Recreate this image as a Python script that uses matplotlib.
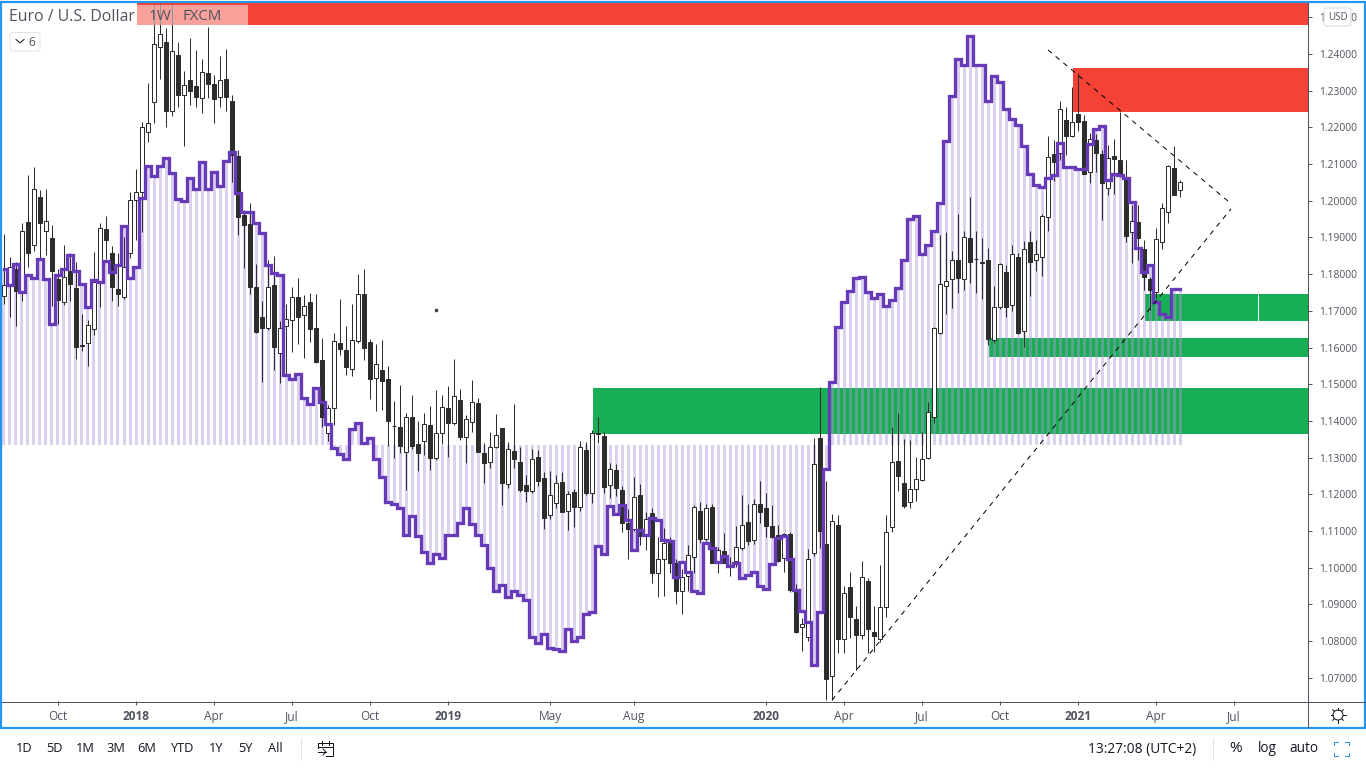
import matplotlib.pyplot as plt
from matplotlib.patches import Rectangle, FancyBboxPatch, Circle
import numpy as np

plt.rcParams['font.family'] = ['Open Sans', 'DejaVu Sans']

# weekly EUR/USD candles
opens = [
    1.1740, 1.1770, 1.1814, 1.1751, 1.1942, 1.1880, 1.2010, 1.1918, 1.1899, 1.1787,
    1.1724, 1.1809, 1.1762, 1.1607, 1.1612, 1.1650, 1.1779, 1.1923, 1.1857, 1.1760,
    1.1738, 1.1857, 1.2002, 1.2024, 1.2187, 1.2269, 1.2419, 1.2432, 1.2245, 1.2397,
    1.2288, 1.2329, 1.2313, 1.2280, 1.2348, 1.2318, 1.2283, 1.2332, 1.2272, 1.2122,
    1.1961, 1.1937, 1.1765, 1.1683, 1.1653, 1.1770, 1.1585, 1.1659, 1.1675, 1.1738,
    1.1689, 1.1724, 1.1653, 1.1566, 1.1367, 1.1435, 1.1612, 1.1593, 1.1542, 1.1618,
    1.1746, 1.1615, 1.1517, 1.1539, 1.1514, 1.1387, 1.1383, 1.1315, 1.1411, 1.1337,
    1.1345, 1.1389, 1.1299, 1.1367, 1.1435, 1.1394, 1.1457, 1.1356, 1.1397, 1.1449,
    1.1312, 1.1288, 1.1329, 1.1381, 1.1228, 1.1318, 1.1288, 1.1225, 1.1209, 1.1302,
    1.1244, 1.1143, 1.1176, 1.1234, 1.1155, 1.1206, 1.1165, 1.1321, 1.1204, 1.1367,
    1.1359, 1.1225, 1.1266, 1.1212, 1.1122, 1.1105, 1.1198, 1.1089, 1.1149, 1.0985,
    1.1024, 1.1067, 1.1013, 1.0936, 1.0977, 1.1029, 1.1154, 1.1078, 1.1165, 1.1013,
    1.1045, 1.1007, 1.1018, 1.1053, 1.1124, 1.1075, 1.1174, 1.1163, 1.1113, 1.1089,
    1.1026, 1.1092, 1.0939, 1.0838, 1.0811, 1.1040, 1.1353, 1.1064, 1.0705, 1.1116,
    1.0805, 1.0947, 1.0860, 1.0816, 1.0963, 1.0825, 1.0805, 1.0893, 1.1111, 1.1291,
    1.1231, 1.1179, 1.1215, 1.1239, 1.1299, 1.1411, 1.1640, 1.1768, 1.1787, 1.1838,
    1.1787, 1.1898, 1.1842, 1.1833, 1.1838, 1.1620, 1.1710, 1.1806, 1.1716, 1.1847,
    1.1645, 1.1888, 1.1838, 1.1847, 1.1956, 1.2127, 1.2130, 1.2220, 1.2176, 1.2236,
    1.2217, 1.2079, 1.2166, 1.2127, 1.2035, 1.2122, 1.2111, 1.2065, 1.1915, 1.1942,
    1.1868, 1.1787, 1.1751, 1.1888, 1.1969, 1.2089, 1.2029,
]
closes = [
    1.1770, 1.1819, 1.1754, 1.1918, 1.1858, 1.2032, 1.1940, 1.1945, 1.1809, 1.1729,
    1.1792, 1.1773, 1.1601, 1.1605, 1.1661, 1.1779, 1.1926, 1.1893, 1.1765, 1.1746,
    1.1819, 1.2002, 1.2024, 1.2201, 1.2212, 1.2427, 1.2454, 1.2245, 1.2408, 1.2288,
    1.2315, 1.2299, 1.2283, 1.2351, 1.2318, 1.2277, 1.2329, 1.2283, 1.2125, 1.1956,
    1.1934, 1.1765, 1.1642, 1.1653, 1.1765, 1.1601, 1.1653, 1.1678, 1.1738, 1.1683,
    1.1713, 1.1650, 1.1560, 1.1411, 1.1435, 1.1618, 1.1596, 1.1547, 1.1621, 1.1746,
    1.1599, 1.1514, 1.1555, 1.1509, 1.1400, 1.1385, 1.1331, 1.1411, 1.1331, 1.1312,
    1.1391, 1.1299, 1.1367, 1.1438, 1.1394, 1.1468, 1.1356, 1.1405, 1.1451, 1.1315,
    1.1285, 1.1329, 1.1362, 1.1231, 1.1323, 1.1296, 1.1212, 1.1209, 1.1296, 1.1236,
    1.1135, 1.1198, 1.1231, 1.1152, 1.1201, 1.1165, 1.1329, 1.1204, 1.1367, 1.1365,
    1.1220, 1.1269, 1.1217, 1.1122, 1.1105, 1.1193, 1.1086, 1.1132, 1.0985, 1.1024,
    1.1067, 1.1013, 1.0936, 1.0974, 1.1035, 1.1165, 1.1078, 1.1163, 1.1013, 1.1048,
    1.1013, 1.1005, 1.1056, 1.1116, 1.1073, 1.1174, 1.1152, 1.1113, 1.1084, 1.1018,
    1.1092, 1.0939, 1.0825, 1.0846, 1.1024, 1.1283, 1.1100, 1.0697, 1.1127, 1.0805,
    1.0931, 1.0866, 1.0816, 1.0974, 1.0833, 1.0814, 1.0893, 1.1097, 1.1288, 1.1250,
    1.1168, 1.1215, 1.1242, 1.1296, 1.1424, 1.1653, 1.1773, 1.1781, 1.1838, 1.1789,
    1.1901, 1.1833, 1.1841, 1.1831, 1.1623, 1.1710, 1.1828, 1.1710, 1.1855, 1.1640,
    1.1868, 1.1833, 1.1855, 1.1959, 1.2119, 1.2105, 1.2250, 1.2176, 1.2215, 1.2215,
    1.2073, 1.2168, 1.2130, 1.2049, 1.2116, 1.2114, 1.2073, 1.1904, 1.1945, 1.1898,
    1.1792, 1.1757, 1.1896, 1.1980, 1.2095, 1.2016, 1.2051,
]
highs = [
    1.1909, 1.1847, 1.1833, 1.1939, 1.2070, 1.2092, 1.2029, 1.2032, 1.1934, 1.1814,
    1.1880, 1.1857, 1.1833, 1.1691, 1.1675, 1.1860, 1.1939, 1.1958, 1.1877, 1.1857,
    1.1901, 1.2024, 1.2087, 1.2215, 1.2321, 1.2535, 1.2535, 1.2470, 1.2535, 1.2432,
    1.2353, 1.2443, 1.2411, 1.2386, 1.2474, 1.2343, 1.2394, 1.2414, 1.2288, 1.2138,
    1.1975, 1.1994, 1.1828, 1.1727, 1.1838, 1.1850, 1.1672, 1.1718, 1.1765, 1.1789,
    1.1743, 1.1749, 1.1746, 1.1626, 1.1443, 1.1640, 1.1732, 1.1659, 1.1718, 1.1801,
    1.1814, 1.1623, 1.1610, 1.1620, 1.1550, 1.1454, 1.1498, 1.1421, 1.1471, 1.1399,
    1.1421, 1.1441, 1.1484, 1.1471, 1.1495, 1.1569, 1.1487, 1.1416, 1.1512, 1.1463,
    1.1340, 1.1370, 1.1419, 1.1381, 1.1342, 1.1446, 1.1329, 1.1253, 1.1323, 1.1321,
    1.1261, 1.1263, 1.1253, 1.1261, 1.1209, 1.1214, 1.1345, 1.1343, 1.1375, 1.1411,
    1.1370, 1.1285, 1.1283, 1.1223, 1.1160, 1.1247, 1.1228, 1.1152, 1.1163, 1.1084,
    1.1108, 1.1084, 1.1024, 1.0996, 1.1062, 1.1171, 1.1179, 1.1174, 1.1174, 1.1056,
    1.1094, 1.1029, 1.1113, 1.1198, 1.1174, 1.1187, 1.1236, 1.1204, 1.1171, 1.1116,
    1.1094, 1.1097, 1.0955, 1.0863, 1.1051, 1.1353, 1.1492, 1.1236, 1.1146, 1.1143,
    1.0950, 1.0988, 1.0895, 1.1018, 1.0972, 1.0895, 1.1007, 1.1143, 1.1383, 1.1421,
    1.1351, 1.1348, 1.1302, 1.1370, 1.1451, 1.1656, 1.1907, 1.1915, 1.1863, 1.1964,
    1.1918, 1.2010, 1.1918, 1.1898, 1.1871, 1.1768, 1.1830, 1.1825, 1.1880, 1.1857,
    1.1890, 1.1918, 1.1893, 1.1965, 1.2176, 1.2165, 1.2272, 1.2256, 1.2310, 1.2348,
    1.2234, 1.2185, 1.2182, 1.2138, 1.2152, 1.2168, 1.2242, 1.2111, 1.1988, 1.1988,
    1.1893, 1.1792, 1.1926, 1.1994, 1.2097, 1.2149, 1.2057,
]
lows = [
    1.1718, 1.1683, 1.1659, 1.1727, 1.1819, 1.1863, 1.1841, 1.1852, 1.1713, 1.1664,
    1.1716, 1.1727, 1.1569, 1.1590, 1.1550, 1.1634, 1.1710, 1.1840, 1.1727, 1.1713,
    1.1732, 1.1844, 1.1893, 1.1915, 1.2160, 1.2212, 1.2332, 1.2201, 1.2231, 1.2256,
    1.2149, 1.2261, 1.2256, 1.2239, 1.2280, 1.2212, 1.2256, 1.2245, 1.2051, 1.1906,
    1.1817, 1.1746, 1.1640, 1.1506, 1.1647, 1.1539, 1.1503, 1.1528, 1.1588, 1.1610,
    1.1571, 1.1615, 1.1557, 1.1383, 1.1345, 1.1389, 1.1580, 1.1525, 1.1522, 1.1612,
    1.1566, 1.1460, 1.1427, 1.1430, 1.1332, 1.1299, 1.1312, 1.1212, 1.1323, 1.1263,
    1.1307, 1.1266, 1.1293, 1.1337, 1.1302, 1.1390, 1.1348, 1.1285, 1.1370, 1.1315,
    1.1231, 1.1272, 1.1326, 1.1171, 1.1217, 1.1272, 1.1206, 1.1179, 1.1204, 1.1223,
    1.1105, 1.1132, 1.1163, 1.1152, 1.1103, 1.1111, 1.1154, 1.1198, 1.1176, 1.1340,
    1.1204, 1.1190, 1.1195, 1.1097, 1.1024, 1.1100, 1.1062, 1.1048, 1.0958, 1.0920,
    1.0923, 1.0985, 1.0901, 1.0874, 1.0936, 1.0985, 1.1067, 1.1073, 1.1013, 1.0985,
    1.1013, 1.0977, 1.1002, 1.1048, 1.1062, 1.1065, 1.1122, 1.1084, 1.1081, 1.1015,
    1.0988, 1.0934, 1.0822, 1.0773, 1.0800, 1.1032, 1.1053, 1.0640, 1.0640, 1.0767,
    1.0767, 1.0808, 1.0721, 1.0805, 1.0767, 1.0770, 1.0797, 1.0865, 1.1097, 1.1209,
    1.1163, 1.1163, 1.1182, 1.1236, 1.1296, 1.1394, 1.1637, 1.1691, 1.1708, 1.1749,
    1.1757, 1.1776, 1.1749, 1.1732, 1.1607, 1.1612, 1.1705, 1.1683, 1.1700, 1.1637,
    1.1601, 1.1740, 1.1809, 1.1795, 1.1918, 1.2054, 1.2111, 1.2125, 1.2173, 1.2190,
    1.2073, 1.2049, 1.2079, 1.1948, 1.2016, 1.2018, 1.2065, 1.1888, 1.1830, 1.1838,
    1.1757, 1.1702, 1.1735, 1.1868, 1.1939, 1.2016, 1.2010,
]

# purple step indicator, same weeks as the candles
indicator = [
    1.1814, 1.1770, 1.1827, 1.1751, 1.1797, 1.1789, 1.1841, 1.1786, 1.1664, 1.1797,
    1.1814, 1.1852, 1.1808, 1.1773, 1.1710, 1.1784, 1.1778, 1.1836, 1.1806, 1.1825,
    1.1931, 1.1789, 1.1819, 1.2007, 1.2094, 1.2067, 1.2094, 1.2116, 1.2075, 1.2005,
    1.1999, 1.2062, 1.2032, 1.2105, 1.2032, 1.2078, 1.2040, 1.2108, 1.2133, 1.2021,
    1.1969, 1.1969, 1.1939, 1.1912, 1.1825, 1.1803, 1.1797, 1.1525, 1.1514, 1.1527,
    1.1462, 1.1446, 1.1489, 1.1451, 1.1391, 1.1326, 1.1309, 1.1296, 1.1377, 1.1394,
    1.1339, 1.1353, 1.1296, 1.1247, 1.1179, 1.1173, 1.1162, 1.1089, 1.1140, 1.1086,
    1.1042, 1.1012, 1.1037, 1.1026, 1.1089, 1.1089, 1.1121, 1.1162, 1.1119, 1.1089,
    1.1061, 1.0999, 1.0936, 1.0952, 1.0920, 1.0936, 1.0925, 1.0911, 1.0810, 1.0794,
    1.0819, 1.0780, 1.0778, 1.0772, 1.0832, 1.0800, 1.0810, 1.0873, 1.0879, 1.1059,
    1.1037, 1.1168, 1.1146, 1.1170, 1.1129, 1.1048, 1.1102, 1.1089, 1.1135, 1.1129,
    1.1075, 1.1072, 1.0974, 1.1015, 1.0988, 1.0936, 1.0931, 1.1067, 1.1053, 1.1015,
    1.1031, 1.1004, 1.1012, 1.0971, 1.0980, 1.0988, 1.0950, 1.0941, 1.1010, 1.1080,
    1.1086, 1.1023, 1.0939, 1.0881, 1.0851, 1.0734, 1.0879, 1.1268, 1.1506, 1.1656,
    1.1724, 1.1754, 1.1789, 1.1792, 1.1751, 1.1735, 1.1746, 1.1713, 1.1729, 1.1762,
    1.1838, 1.1950, 1.1958, 1.1855, 1.1879, 1.1917, 1.1994, 1.2163, 1.2285, 1.2386,
    1.2370, 1.2449, 1.2370, 1.2370, 1.2272, 1.2340, 1.2323, 1.2250, 1.2223, 1.2206,
    1.2149, 1.2073, 1.2043, 1.2037, 1.2062, 1.2070, 1.2157, 1.2092, 1.2092, 1.2086,
    1.2086, 1.2154, 1.2195, 1.2203, 1.2056, 1.2073, 1.2070, 1.2062, 1.1996, 1.1871,
    1.1806, 1.1825, 1.1724, 1.1691, 1.1683, 1.1759, 1.1759,
]
indicator_base = 1.1334

# supply / demand zones: first week, low price, high price
red_zones = [(22.17, 1.2479, 1.2539), (178.17, 1.2242, 1.2362)]
green_zones = [(98.17, 1.1364, 1.1490), (164.17, 1.1574, 1.1626), (190.17, 1.1672, 1.1746)]

# dashed trend lines, week and price of both ends
trend_down_x = [174, 204]
trend_down_y = [1.2411, 1.1999]
trend_up_x = [138, 204.5]
trend_up_y = [1.0639, 1.1978]

y_ticks = [1.07, 1.08, 1.09, 1.10, 1.11, 1.12, 1.13, 1.14, 1.15, 1.16, 1.17, 1.18, 1.19,
           1.20, 1.21, 1.22, 1.23, 1.24, 1.25]
x_tick_weeks = [9, 22, 35, 48, 61, 74, 91, 105, 127, 140, 153, 166, 179, 192, 205]
x_tick_labels = ['Oct', '2018', 'Apr', 'Jul', 'Oct', '2019', 'May', 'Aug', '2020', 'Apr',
                 'Jul', 'Oct', '2021', 'Apr', 'Jul']
range_buttons = ['1D', '5D', '1M', '3M', '6M', 'YTD', '1Y', '5Y', 'All']
range_button_x = [24, 54, 85, 116, 147, 182, 216, 245, 275]

DARK = '#2d2d2d'
GREY = '#50535e'
TEXT = '#131722'
PX = 0.72  # one pixel in points at dpi 100

# ----------------------------------------------------------------------

fig = plt.figure(figsize=(13.66, 7.68), dpi=100)
ax = fig.add_axes([2 / 1366, 67 / 768, 1306 / 1366, 698 / 768])

weeks = np.arange(len(opens))
o = np.array(opens)
c = np.array(closes)
vals = np.array(indicator)
right_edge = 217.33

ax.set_xlim(-0.333, right_edge)
ax.set_ylim(1.06366, 1.25390)

for start, lo, hi in red_zones:
    ax.add_patch(Rectangle((start, lo), right_edge - start, hi - lo, fc='#f44336', lw=0, zorder=1))
for start, lo, hi in green_zones:
    ax.add_patch(Rectangle((start, lo), right_edge - start, hi - lo, fc='#17ae55', lw=0, zorder=1))
ax.plot([209, 209], [green_zones[2][1], green_zones[2][2]], color='white', lw=PX, zorder=1.5)

ax.bar(weeks, vals - indicator_base, bottom=indicator_base, width=0.5,
       color='#b099d8', alpha=0.44, lw=0, zorder=2)

ax.vlines(weeks, lows, highs, color=DARK, lw=PX, zorder=3)
body_colors = np.where(c >= o, 'white', DARK)
ax.bar(weeks, np.abs(c - o), bottom=np.minimum(o, c), width=0.66, color=body_colors,
       edgecolor=DARK, lw=PX, zorder=4)

ax.plot(weeks, vals, drawstyle='steps-mid', color='#673ab7', lw=3.3 * PX,
        solid_joinstyle='miter', zorder=5)

ax.plot(trend_down_x, trend_down_y, color='black', lw=PX, dashes=(5, 5), zorder=6)
ax.plot(trend_up_x, trend_up_y, color='black', lw=PX, dashes=(5, 5), zorder=6)
ax.plot([72], [1.1702], marker='s', ms=1.6, color='#444444', zorder=6)

ax.yaxis.tick_right()
ax.set_yticks(y_ticks, ['%.5f' % v for v in y_ticks])
ax.set_xticks(x_tick_weeks, x_tick_labels)
ax.tick_params(axis='both', length=3, width=PX, color=GREY, labelcolor=GREY)
ax.tick_params(axis='x', pad=3.5, labelsize=8.6)
ax.tick_params(axis='y', pad=5, labelsize=7.4)
for label in ax.get_xticklabels():
    if label.get_text().isdigit():
        label.set_fontweight('bold')
for name in ['top', 'left', 'right', 'bottom']:
    ax.spines[name].set_visible(False)

# ----------------------------------------------------------------------
# screen furniture, in image pixels

ov = fig.add_axes([0, 0, 1, 1], zorder=5)
ov.set_xlim(0, 1366)
ov.set_ylim(768, 0)
ov.axis('off')

ov.plot([1308, 1308], [3, 727], color=GREY, lw=PX)
ov.plot([2, 1365], [701.5, 701.5], color=GREY, lw=PX)
ov.add_patch(Rectangle((1, 1.5), 1364, 726.5, fc='none', ec='#2196f3', lw=2.2 * PX))

# legend strip
ov.add_patch(Rectangle((137, 5), 111, 20, fc='white', alpha=0.5, lw=0))
ov.text(9, 17, 'Euro / U.S. Dollar', fontsize=11.4, color=GREY, va='center')
ov.text(149, 17, '1W', fontsize=11, color=GREY, va='center')
ov.text(183, 17, 'FXCM', fontsize=10.8, color=GREY, va='center')
ov.add_patch(FancyBboxPatch((10, 32.5), 30, 18.5, boxstyle='round,pad=0,rounding_size=2',
                            fc='white', ec='#e0e3eb', lw=PX))
ov.plot([16, 20, 24], [39.5, 43, 39.5], color=TEXT, lw=PX)
ov.text(32, 42, '6', fontsize=8.6, color=GREY, va='center', ha='center')

# USD button hides most of the top price label
ov.add_patch(FancyBboxPatch((1324, 8), 27, 18, boxstyle='round,pad=0,rounding_size=3',
                            fc='white', ec='#d6d9e3', lw=PX))
ov.text(1337.5, 17, 'USD', fontsize=7, color=GREY, va='center', ha='center')

# gear
ov.add_patch(Circle((1338, 715), 5, fc='none', ec=TEXT, lw=PX))
for a in np.arange(8) * np.pi / 4:
    ov.plot([1338 + 5 * np.cos(a), 1338 + 7.5 * np.cos(a)],
            [715 + 5 * np.sin(a), 715 + 7.5 * np.sin(a)], color=TEXT, lw=PX)

# bottom toolbar
for label, px in zip(range_buttons, range_button_x):
    ov.text(px, 749, label, fontsize=9.2, color=TEXT, va='center', ha='center')
ov.plot([300.5, 300.5], [738, 760], color='#e0e3eb', lw=PX)
ov.plot([318, 318, 333, 333, 326], [748, 743, 743, 756, 756], color=TEXT, lw=PX)
ov.plot([318, 333], [746.5, 746.5], color=TEXT, lw=PX)
ov.plot([322, 322], [741, 745], color=TEXT, lw=PX)
ov.plot([329, 329], [741, 745], color=TEXT, lw=PX)
ov.plot([318, 326], [752, 752], color=TEXT, lw=PX)
ov.plot([323, 326, 323], [749, 752, 755], color=TEXT, lw=PX)

ov.text(1088, 749, '13:27:08 (UTC+2)', fontsize=9.9, color=TEXT, va='center')
ov.plot([1213, 1213], [738, 760], color='#e0e3eb', lw=PX)
ov.text(1236, 749, '%', fontsize=11, color=TEXT, va='center', ha='center')
ov.text(1267, 749, 'log', fontsize=9.8, color=TEXT, va='center', ha='center')
ov.text(1304, 749, 'auto', fontsize=9.8, color=TEXT, va='center', ha='center')
for xs, ys in [([1334, 1334, 1338], [745, 742, 742]), ([1345, 1349, 1349], [742, 742, 745]),
               ([1334, 1334, 1338], [753, 756, 756]), ([1345, 1349, 1349], [756, 756, 753])]:
    ov.plot(xs, ys, color='#2196f3', lw=PX)

plt.savefig('out.png', dpi=100)
